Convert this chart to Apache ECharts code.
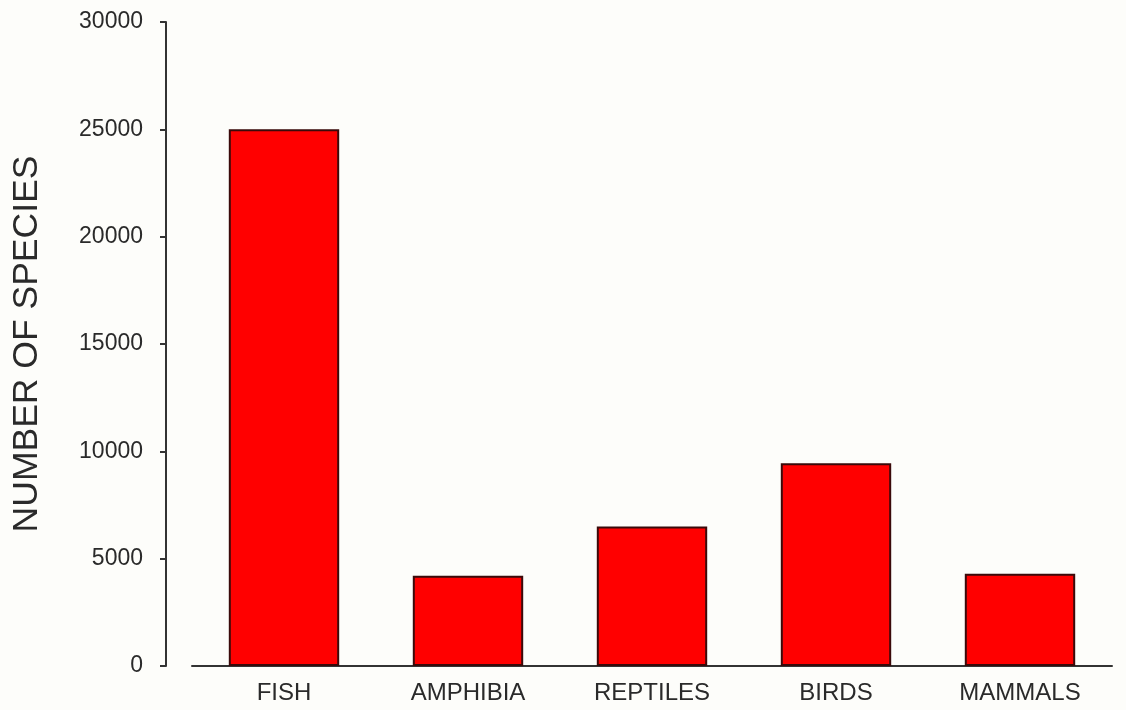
<!DOCTYPE html>
<html>
<head>
<meta charset="utf-8">
<script src="https://cdn.jsdelivr.net/npm/echarts@6/dist/echarts.min.js"></script>
<style>
html,body{margin:0;padding:0;background:#fdfdfa;}
#chart{width:1126px;height:710px;}
</style>
</head>
<body>
<div id="chart"></div>
<script>
const categories = ['FISH', 'AMPHIBIA', 'REPTILES', 'BIRDS', 'MAMMALS'];
const speciesCounts = [25000, 4200, 6500, 9450, 4300];
const yTicks = [0, 5000, 10000, 15000, 20000, 25000, 30000];
const yTitle = 'NUMBER OF SPECIES';

const chart = echarts.init(document.getElementById('chart'), null, {renderer: 'canvas'});
const font = 'Liberation Sans, Arial, Helvetica, sans-serif';
chart.setOption({
  backgroundColor: '#fdfdfa',
  animation: false,
  grid: {left: 192, right: 14, top: 22, bottom: 44, containLabel: false},
  xAxis: {
    type: 'category',
    data: categories,
    axisLine: {show: true, lineStyle: {color: '#333', width: 2}},
    axisTick: {show: false},
    axisLabel: {color: '#2a2a2a', fontSize: 24, fontFamily: font, margin: 15}
  },
  yAxis: {
    type: 'value',
    min: yTicks[0],
    max: yTicks[yTicks.length - 1],
    interval: yTicks[1] - yTicks[0],
    offset: 26,
    name: yTitle,
    nameLocation: 'middle',
    nameGap: 121,
    nameRotate: 90,
    nameTextStyle: {color: '#2a2a2a', fontSize: 35.5, fontFamily: font},
    axisLine: {show: true, lineStyle: {color: '#333', width: 2}},
    axisTick: {show: true, inside: false, length: 6, lineStyle: {color: '#333', width: 2}},
    axisLabel: {color: '#2a2a2a', fontSize: 23, fontFamily: font, margin: 23,
      formatter: function (v) { return String(v); }},
    splitLine: {show: false}
  },
  series: [{
    type: 'bar',
    data: speciesCounts,
    barWidth: '60%',
    itemStyle: {color: '#ff0000', borderColor: '#3a0a0a', borderWidth: 2}
  }]
});
</script>
</body>
</html>
